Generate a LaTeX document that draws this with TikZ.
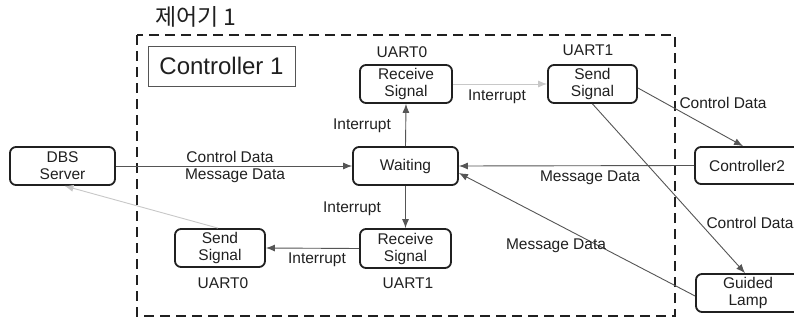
\documentclass[tikz,border=0pt]{standalone}
\usepackage{fontspec}
\setmainfont{Liberation Sans}
\newfontfamily\krfont{Noto Sans CJK KR}
\usetikzlibrary{arrows.meta}
\definecolor{txt}{HTML}{202020}
\definecolor{edge}{HTML}{555555}
\definecolor{faint}{HTML}{C8C8C8}
\begin{document}
\begin{tikzpicture}[x=1pt,y=-1pt,
  every node/.style={text=txt},
  lbl/.style={font=\fontsize{15.5}{17}\selectfont, inner sep=0pt},
  state/.style={draw=txt, line width=1.8pt, rounded corners=6pt, align=center,
    font=\fontsize{15.5}{17}\selectfont, inner sep=0pt},
  conn/.style={draw=edge, line width=0.9pt, -{Latex[length=9pt,width=7pt]}},
  fconn/.style={draw=faint, line width=0.9pt, -{Latex[length=9pt,width=7pt]}},
]
\useasboundingbox (0,0) rectangle (794,321);
\fill[white] (0,0) rectangle (794,321);

% frame
\draw[txt, line width=2.8pt, dash pattern=on 10pt off 6pt] (137,35) rectangle (675,316);
\node (title) at (196,17) {\krfont\fontsize{23}{26}\selectfont 제어기 1};
\node[draw=edge, line width=0.8pt, minimum width=147, minimum height=40, inner sep=0pt,
      font=\fontsize{24}{26}\selectfont] (c1) at (221.5,66) {Controller 1};

% states
\node[state, minimum width=92, minimum height=38] (R0) at (406,84) {Receive\\Signal};
\node[state, minimum width=89, minimum height=38] (S1) at (592.5,84) {Send\\Signal};
\node[state, minimum width=105, minimum height=38] (W) at (405.5,166) {Waiting};
\node[state, minimum width=105, minimum height=38] (DBS) at (62.5,166) {DBS\\Server};
\node[state, minimum width=110, minimum height=37] (C2) at (750,165.5) {\hspace*{-6pt}Controller2};
\node[state, minimum width=104, minimum height=38] (GL) at (748,293) {Guided\\Lamp};
\node[state, minimum width=91, minimum height=39] (R1) at (405.5,248.5) {Receive\\Signal};
\node[state, minimum width=90, minimum height=38] (S0) at (220,248) {Send\\Signal};

% UART labels
\node[lbl] (u0t) at (402,52) {UART0};
\node[lbl] (u1t) at (588,50) {UART1};
\node[lbl] (u1b) at (408,283) {UART1};
\node[lbl] (u0b) at (223,283) {UART0};

% connectors
\draw[conn] (DBS.east) -- (W.west);
\draw[conn] (W.north) -- (R0.south);
\draw[fconn] (R0.east) -- (S1.west);
\draw[conn] (S1.-5) -- ([xshift=-7pt]C2.north);
\draw[conn] (S1.south) -- ([xshift=-3pt]GL.north);
\draw[conn] (C2.west) -- (W.east);
\draw[conn] ([yshift=-3pt]GL.west) -- ([yshift=-7pt]W.east);
\draw[conn] (W.south) -- (R1.north);
\draw[conn] (R1.west) -- (S0.east);
\draw[fconn] ([xshift=-2pt]S0.north) -- ([xshift=2pt]DBS.south);

% edge labels
\node[lbl] (l1) at (230,157) {Control Data};
\node[lbl] (l2) at (235,176) {Message Data};
\node[lbl] (l3) at (362,126) {Interrupt};
\node[lbl] (l4) at (497,97) {Interrupt};
\node[lbl] (l5) at (723,103) {Control Data};
\node[lbl] (l6) at (750,223) {Control Data};
\node[lbl] (l7) at (590,178) {Message Data};
\node[lbl] (l8) at (556,246) {Message Data};
\node[lbl] (l9) at (352,209) {Interrupt};
\node[lbl] (l10) at (317,260) {Interrupt};
\end{tikzpicture}
\end{document}
